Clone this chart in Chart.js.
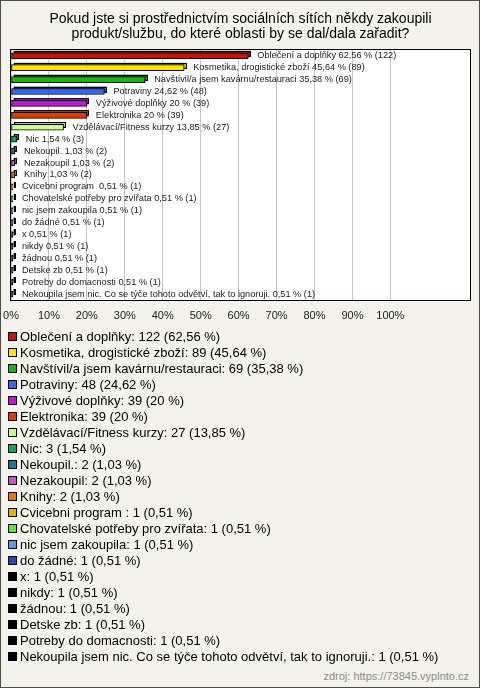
<!DOCTYPE html>
<html><head><meta charset="utf-8">
<script src="https://cdn.jsdelivr.net/npm/chart.js@4"></script>
<style>
html,body{margin:0;padding:0;background:#fff;}
#wrap{position:relative;width:480px;height:688px;background:#f3f3eb;outline:1px solid #4a4a4a;outline-offset:-1px;font-family:'Liberation Sans',Arial,sans-serif;overflow:hidden}
#c{position:absolute;left:0;top:0}
#legend{position:absolute;left:8px;top:328px;}
.li{height:16px;display:flex;align-items:center;font-size:13px;color:#000;white-space:pre}
.sw{width:7px;height:7px;border:1px solid #000;margin-right:3px;flex:none}
#src{position:absolute;right:11px;top:670px;font-size:11px;color:#8a8a8a}
</style></head>
<body><div id="wrap"><canvas id="c" width="480" height="330"></canvas><div id="legend"></div><div id="src">zdroj: https://73845.vyplnto.cz</div></div>
<script>
const titleLines = ["Pokud jste si prostřednictvím sociálních sítích někdy zakoupili", "produkt/službu, do které oblasti by se dal/dala zařadit?"];
const categories = [
  "Oblečení a doplňky",
  "Kosmetika, drogistické zboží",
  "Navštívil/a jsem kavárnu/restauraci",
  "Potraviny",
  "Výživové doplňky",
  "Elektronika",
  "Vzdělávací/Fitness kurzy",
  "Nic",
  "Nekoupil.",
  "Nezakoupil",
  "Knihy",
  "Cvicebni program ",
  "Chovatelské potřeby pro zvířata",
  "nic jsem zakoupila",
  "do žádné",
  "x",
  "nikdy",
  "žádnou",
  "Detske zb",
  "Potreby do domacnosti",
  "Nekoupila jsem nic. Co se týče tohoto odvětví, tak to ignoruji."
];
const counts = [122, 89, 69, 48, 39, 39, 27, 3, 2, 2, 2, 1, 1, 1, 1, 1, 1, 1, 1, 1, 1];
const percents = [62.56, 45.64, 35.38, 24.62, 20, 20, 13.85, 1.54, 1.03, 1.03, 1.03, 0.51, 0.51, 0.51, 0.51, 0.51, 0.51, 0.51, 0.51, 0.51, 0.51];
const colors = ["#c0180c", "#ffe400", "#18b418", "#3c68e8", "#c018d0", "#e03c08", "#c8ff88", "#18a060", "#18808c", "#c058c8", "#e87810", "#e8b400", "#58e838", "#6894e0", "#2848b0", "#000000", "#000000", "#000000", "#000000", "#000000", "#000000"];
const tickValues = [0, 10, 20, 30, 40, 50, 60, 70, 80, 90, 100];

const FONT = "'Liberation Sans', Arial, sans-serif";
const fmt = v => String(v).replace('.', ',');
function darken(hex, f) {
  const n = parseInt(hex.slice(1), 16);
  const r = Math.round(((n >> 16) & 255) * f), g = Math.round(((n >> 8) & 255) * f), b = Math.round((n & 255) * f);
  return `rgb(${r},${g},${b})`;
}
const DX = 2, DY = 2;

const frame = {
  id: 'frame',
  beforeDraw(chart) {
    const {ctx, chartArea: a} = chart;
    ctx.save();
    ctx.fillStyle = '#ffffff';
    ctx.fillRect(a.left, a.top, a.right - a.left, a.bottom - a.top);
    ctx.restore();
  },
  beforeDatasetsDraw(chart) {
    const ctx = chart.ctx;
    const meta = chart.getDatasetMeta(0);
    ctx.save();
    meta.data.forEach((el, i) => {
      const h = el.height;
      const x0 = Math.min(el.base, el.x) + DX, x1 = Math.max(el.base, el.x) + DX;
      const y0 = el.y - h / 2 - DY;
      ctx.fillStyle = darken(colors[i], 0.8);
      ctx.fillRect(x0, y0, x1 - x0, h);
      ctx.strokeStyle = '#000';
      ctx.lineWidth = 1;
      ctx.strokeRect(Math.round(x0) + 0.5, Math.round(y0) + 0.5, Math.max(1, Math.round(x1 - x0) - 1), h - 1);
    });
    ctx.restore();
  },
  afterDatasetsDraw(chart) {
    const ctx = chart.ctx;
    const meta = chart.getDatasetMeta(0);
    ctx.save();
    ctx.font = `9.2px ${FONT}`;
    ctx.fillStyle = '#1a1a1a';
    ctx.textBaseline = 'middle';
    ctx.textAlign = 'left';
    meta.data.forEach((el, i) => {
      const txt = `${categories[i]} ${fmt(percents[i])} % (${counts[i]})`;
      ctx.fillText(txt, el.x + 9, el.y);
    });
    const a = chart.chartArea;
    ctx.strokeStyle = '#000';
    ctx.lineWidth = 1;
    ctx.strokeRect(Math.round(a.left) - 0.5, Math.round(a.top) - 0.5, Math.round(a.right - a.left) + 1, Math.round(a.bottom - a.top) + 1);
    ctx.restore();
  }
};

Chart.defaults.font.family = FONT;
new Chart(document.getElementById('c'), {
  type: 'bar',
  data: {
    labels: categories,
    datasets: [{
      data: percents,
      backgroundColor: colors,
      borderColor: '#000',
      borderWidth: 1,
      borderSkipped: false,
      barThickness: 6
    }]
  },
  options: {
    indexAxis: 'y',
    responsive: false,
    animation: false,
    devicePixelRatio: 1,
    layout: {padding: {left: 11, right: 10, top: 0, bottom: 8}},
    plugins: {
      legend: {display: false},
      tooltip: {enabled: false},
      title: {
        display: true,
        text: titleLines,
        color: '#000',
        font: {size: 14, weight: 'normal', family: FONT, lineHeight: 1.1},
        padding: {top: 11, bottom: 8}
      }
    },
    scales: {
      x: {
        type: 'linear',
        position: 'bottom',
        min: 0,
        max: 121,
        afterBuildTicks: axis => { axis.ticks = tickValues.map(v => ({value: v})); },
        afterFit: s => { s.paddingLeft = 0; s.paddingRight = 0; s.height = 22; },
        grid: {color: '#c4c4c4', drawTicks: false},
        border: {display: false},
        ticks: {padding: 9, color: '#222', font: {size: 11}, maxRotation: 0, autoSkip: false, callback: v => v + '%'}
      },
      y: {
        type: 'category',
        display: false
      }
    }
  },
  plugins: [frame]
});

const leg = document.getElementById('legend');
categories.forEach((c, i) => {
  const d = document.createElement('div');
  d.className = 'li';
  const s = document.createElement('span');
  s.className = 'sw';
  s.style.background = colors[i];
  const t = document.createElement('span');
  t.textContent = `${c}: ${counts[i]} (${fmt(percents[i])} %)`;
  d.appendChild(s); d.appendChild(t);
  leg.appendChild(d);
});
</script>
</body></html>
